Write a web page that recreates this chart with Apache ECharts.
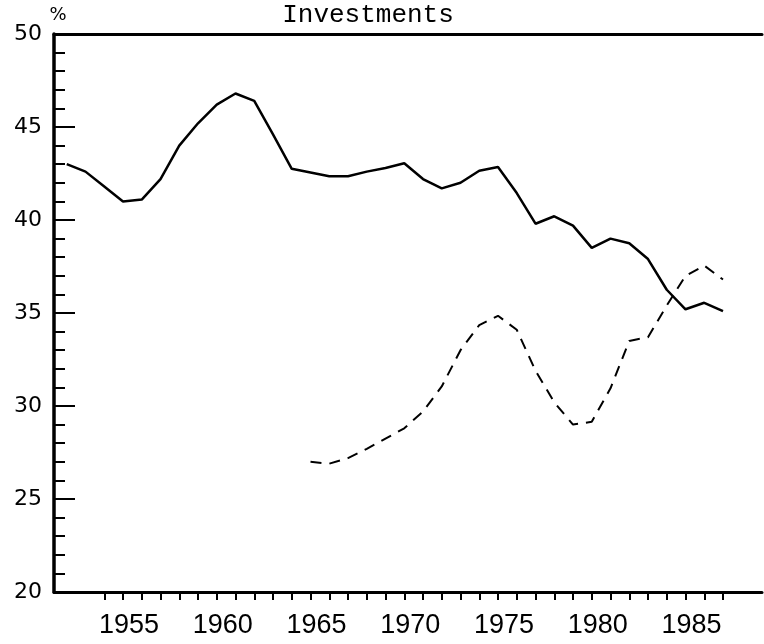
<!DOCTYPE html>
<html><head><meta charset="utf-8">
<script src="https://cdn.jsdelivr.net/npm/echarts@6/dist/echarts.min.js"></script>
<style>html,body{margin:0;padding:0;background:#fff}#chart{width:764px;height:644px}</style>
</head><body><div id="chart"></div>
<script>
const solidYears = [1952,1953,1954,1955,1956,1957,1958,1959,1960,1961,1962,1963,1964,1965,1966,1967,1968,1969,1970,1971,1972,1973,1974,1975,1976,1977,1978,1979,1980,1981,1982,1983,1984,1985,1986,1987];
const solidValues = [43.0,42.6,41.8,41.0,41.1,42.2,44.0,45.2,46.2,46.8,46.4,44.6,42.75,42.55,42.35,42.35,42.6,42.8,43.05,42.2,41.7,42.0,42.65,42.85,41.45,39.8,40.2,39.7,38.5,39.0,38.75,37.9,36.25,35.2,35.55,35.1];
const dashedYears = [1965,1966,1967,1968,1969,1970,1971,1972,1973,1974,1975,1976,1977,1978,1979,1980,1981,1982,1983,1984,1985,1986,1987];
const dashedValues = [27.0,26.9,27.2,27.7,28.25,28.8,29.7,31.05,33.0,34.35,34.85,34.1,31.9,30.2,29.0,29.15,30.95,33.5,33.7,35.4,37.0,37.55,36.8];
const xTickYears = [1954,1955,1956,1957,1958,1959,1960,1961,1962,1963,1964,1965,1966,1967,1968,1969,1970,1971,1972,1973,1974,1975,1976,1977,1978,1979,1980,1981,1982,1983,1984,1985,1986,1987];
const xLabelYears = [1955,1960,1965,1970,1975,1980,1985];
const titleText = 'Investments';
const unitText = '%';

const chart = echarts.init(document.getElementById('chart'), null, {renderer: 'canvas'});
const black = '#000';
chart.setOption({
  animation: false,
  backgroundColor: '#fff',
  grid: {left: 54, right: 2, top: 34, bottom: 52, containLabel: false, outerBoundsMode: 'none'},
  xAxis: [{
    type: 'value', min: 1951.32, max: 1989.08, position: 'bottom',
    axisLine: {show: true, lineStyle: {color: black, width: 3}},
    axisTick: {show: true, customValues: xTickYears, length: 8, lineStyle: {color: black, width: 2}},
    axisLabel: {show: true, customValues: xLabelYears, formatter: v => String(v), fontFamily: 'Liberation Sans', fontSize: 27, color: black, margin: 20, padding: [0, 0, 0, 12]},
    splitLine: {show: false}
  }, {
    type: 'value', min: 1951.32, max: 1989.08, position: 'top',
    axisLine: {show: true, lineStyle: {color: black, width: 3}},
    axisTick: {show: false}, axisLabel: {show: false}, splitLine: {show: false}
  }],
  yAxis: {
    type: 'value', min: 20, max: 50, interval: 5, position: 'left',
    axisLine: {show: true, lineStyle: {color: black, width: 3.5}},
    axisTick: {show: true, inside: true, length: 21, lineStyle: {color: black, width: 2}},
    minorTick: {show: true, splitNumber: 5, length: 11, lineStyle: {color: black, width: 2}},
    axisLabel: {fontFamily: 'DejaVu Sans', fontSize: 22, color: black, margin: 12},
    splitLine: {show: false}, minorSplitLine: {show: false}
  },
  series: [{
    type: 'line', showSymbol: false, silent: true,
    data: solidYears.map((y, i) => [y, solidValues[i]]),
    lineStyle: {color: black, width: 2.5}
  }, {
    type: 'line', showSymbol: false, silent: true,
    data: dashedYears.map((y, i) => [y, dashedValues[i]]),
    lineStyle: {color: black, width: 2, type: [11, 8]}
  }],
  graphic: [
    {type: 'text', x: 368, y: 15, silent: true, style: {text: titleText, font: '26px "Liberation Mono"', fill: black, align: 'center', verticalAlign: 'middle'}},
    {type: 'text', x: 58, y: 15, silent: true, style: {text: unitText, font: '18px "DejaVu Sans"', fill: black, align: 'center', verticalAlign: 'middle'}}
  ]
});
</script></body></html>
